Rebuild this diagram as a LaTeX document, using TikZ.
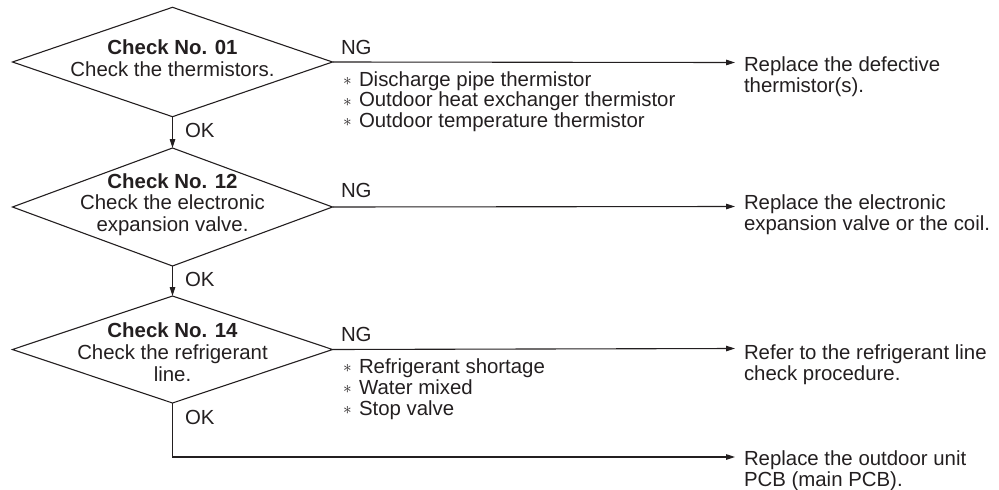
\documentclass[tikz,border=0pt]{standalone}
\usepackage{fontspec}
\setmainfont{Liberation Sans}
\usetikzlibrary{shapes.geometric,arrows.meta}
\definecolor{ink}{HTML}{231F20}
\newcommand\myast{\raisebox{0.5pt}{\fontsize{16}{16}\selectfont$\ast$}}
\newcommand\myitem[1]{\makebox[16pt][l]{\myast}#1}
\begin{document}
\begin{tikzpicture}[x=1pt,y=-1pt,
  every node/.style={font=\fontsize{20.4}{21}\selectfont, text=ink, inner sep=0pt, outer sep=0pt},
  decision/.style={shape=diamond, draw=ink, line width=1.1pt, minimum width=320pt, inner sep=0pt, outer sep=0pt},
  dtext/.style={anchor=base, align=center, font=\fontsize{20.4}{21.7}\selectfont},
  lbl/.style={anchor=base west},
  result/.style={anchor=base west, align=left},
  flow/.style={draw=ink, line width=1.1pt, -{Triangle[length=9pt,width=5.5pt]}},
  plain/.style={draw=ink, line width=1.1pt}
]
\useasboundingbox (0,0) rectangle (999,490);

% decisions
\node[decision, minimum height=109.4pt] (d1) at (172.5,62) {};
\node[decision, minimum height=118pt] (d2) at (172.5,207) {};
\node[decision, minimum height=107pt] (d3) at (172.5,349.5) {};

% texts (base anchor = baseline of the last line)
\node[dtext] (t1) at (172.5,76) {\textbf{Check No. 01}\\Check the thermistors.};
\node[dtext] (t2) at (172.5,231.5) {\textbf{Check No. 12}\\Check the electronic\\expansion valve.};
\node[dtext] (t3) at (172.5,381) {\textbf{Check No. 14}\\Check the refrigerant\\line.};

% end points
\coordinate (e1) at (735,62.5);
\coordinate (e2) at (735,206.5);
\coordinate (e3) at (735,348.5);
\coordinate (e4) at (735,457);

% connectors
\draw[flow] (d1.south) -- (d2.north);
\draw[flow] (d2.south) -- (d3.north);
\draw[flow] (d1.east) -- (e1);
\draw[flow] (d2.east) -- (e2);
\draw[flow] (d3.east) -- (e3);
\draw[flow] (d3.south) |- (e4);

% labels
\node[lbl] (ok1) at (185,137) {OK};
\node[lbl] (ok2) at (185,286) {OK};
\node[lbl] (ok3) at (185,424) {OK};
\node[lbl] (ng1) at (341,54) {NG};
\node[lbl] (ng2) at (341,197) {NG};
\node[lbl] (ng3) at (341,341) {NG};

% cause lists
\node[result, font=\fontsize{20.4}{20.5}\selectfont] (c1) at (343,127)
  {\myitem{Discharge pipe thermistor}\\\myitem{Outdoor heat exchanger thermistor}\\\myitem{Outdoor temperature thermistor}};
\node[result, font=\fontsize{20.4}{21}\selectfont] (c3) at (343,415)
  {\myitem{Refrigerant shortage}\\\myitem{Water mixed}\\\myitem{Stop valve}};

% results
\node[result] (r1) at (744,92) {Replace the defective\\thermistor(s).};
\node[result] (r2) at (744,230.5) {Replace the electronic\\expansion valve or the coil.};
\node[result] (r3) at (744,380) {Refer to the refrigerant line\\check procedure.};
\node[result] (r4) at (744,486) {Replace the outdoor unit\\PCB (main PCB).};
\end{tikzpicture}
\end{document}
